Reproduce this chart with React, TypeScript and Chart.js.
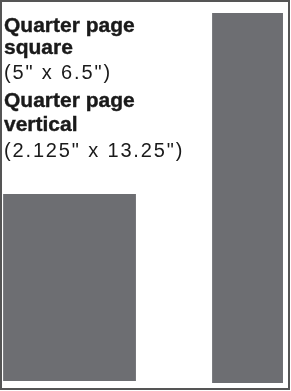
import { useEffect, useRef } from "react";
import { Chart, registerables } from "chart.js";

Chart.register(...registerables);

// Page and ad blocks, in inches
const pageWidthIn = 10.25;
const pageHeightIn = 13.83;
const adNames = [
  ["Quarter page", "square"],
  ["Quarter page", "vertical"],
];
const adSizes = ['(5" x 6.5")', '(2.125" x 13.25")'];
const adLeftIn = [0.04, 7.53];
const adRightIn = [4.8, 10.07];
const adBottomIn = [0.25, 0.18];
const adTopIn = [6.95, 13.44];

const BLOCK_COLOR = "#6d6e72";
const FONT = '"Liberation Sans", Arial, Helvetica, sans-serif';

export default function App() {
  const canvasRef = useRef<HTMLCanvasElement | null>(null);

  useEffect(() => {
    if (!canvasRef.current) return;
    const datasets = adNames.map((name, i) => ({
      label: name.join(" "),
      data: [
        { x: adLeftIn[i], y: adBottomIn[i] },
        { x: adLeftIn[i], y: adTopIn[i] },
        { x: adRightIn[i], y: adTopIn[i] },
        { x: adRightIn[i], y: adBottomIn[i] },
      ],
      fill: { value: adBottomIn[i] },
      backgroundColor: BLOCK_COLOR,
      borderColor: "rgba(0,0,0,0)",
      borderWidth: 0,
      pointRadius: 0,
      pointHoverRadius: 0,
      tension: 0,
    }));
    const chart = new Chart(canvasRef.current, {
      type: "line",
      data: { datasets },
      options: {
        animation: false,
        responsive: false,
        maintainAspectRatio: false,
        layout: { padding: 0 },
        events: [],
        plugins: {
          legend: { display: false },
          tooltip: { enabled: false },
          title: { display: false },
        },
        scales: {
          x: { type: "linear", min: 0, max: pageWidthIn, display: false },
          y: { type: "linear", min: 0, max: pageHeightIn, display: false },
        },
      },
    });
    return () => chart.destroy();
  }, []);

  const baselines = [32, 54, 79, 107, 130.5, 156.5];
  const lines: { text: string; bold: boolean }[] = [];
  adNames.forEach((name, i) => {
    name.forEach((t) => lines.push({ text: t, bold: true }));
    lines.push({ text: adSizes[i], bold: false });
  });

  return (
    <div
      style={{
        position: "absolute",
        left: 0,
        top: 0,
        width: 290,
        height: 390,
        border: "2px solid #555",
        boxSizing: "border-box",
        background: "#fff",
      }}
    >
      <canvas
        ref={canvasRef}
        width={286}
        height={386}
        style={{ position: "absolute", left: 0, top: 0, width: 286, height: 386 }}
      />
      {lines.map((l, i) => {
        const fs = l.bold ? 21 : 20;
        const top = baselines[i] - 2 - fs * 0.8465;
        return (
          <div
            key={i}
            style={{
              position: "absolute",
              left: 2,
              top,
              fontFamily: FONT,
              fontSize: fs,
              lineHeight: `${fs}px`,
              fontWeight: l.bold ? 700 : 400,
              letterSpacing: l.bold ? 0 : 1.85,
              WebkitTextStroke: l.bold ? "0.4px #1a1a1a" : undefined,
              color: "#1a1a1a",
              whiteSpace: "nowrap",
            }}
          >
            {l.text}
          </div>
        );
      })}
    </div>
  );
}
